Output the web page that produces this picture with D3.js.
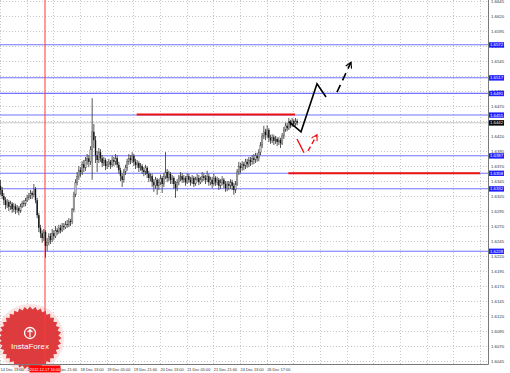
<!DOCTYPE html>
<html><head><meta charset="utf-8">
<script src="https://cdn.jsdelivr.net/npm/d3@7"></script>
<style>html,body{margin:0;padding:0;background:#fff;overflow:hidden}svg{display:block}</style>
</head><body>
<svg id="c" width="510" height="373"></svg>
<script>
const closes=[1.6330,1.6320,1.6313,1.6305,1.6310,1.6302,1.6307,1.6298,1.6303,1.6297,
1.6300,1.6295,1.6303,1.6308,1.6307,1.6313,1.6317,1.6320,1.6325,1.6322,
1.6332,1.6313,1.6288,1.6267,1.6258,1.6250,1.6260,1.6237,1.6243,1.6253,
1.6247,1.6258,1.6253,1.6263,1.6260,1.6267,1.6263,1.6270,1.6268,1.6273,
1.6272,1.6278,1.6277,1.6297,1.6322,1.6343,1.6353,1.6363,1.6360,1.6373,
1.6367,1.6380,1.6383,1.6377,1.6397,1.6427,1.6413,1.6388,1.6380,1.6393,
1.6383,1.6375,1.6380,1.6370,1.6373,1.6377,1.6372,1.6380,1.6377,1.6383,
1.6372,1.6363,1.6353,1.6347,1.6360,1.6367,1.6377,1.6383,1.6380,1.6387,
1.6377,1.6372,1.6375,1.6367,1.6370,1.6363,1.6360,1.6367,1.6357,1.6350,
1.6353,1.6343,1.6338,1.6347,1.6337,1.6343,1.6350,1.6340,1.6353,1.6360,
1.6350,1.6357,1.6347,1.6350,1.6340,1.6333,1.6343,1.6350,1.6353,1.6347,
1.6350,1.6343,1.6353,1.6347,1.6343,1.6350,1.6340,1.6347,1.6350,1.6343,
1.6347,1.6353,1.6350,1.6347,1.6353,1.6343,1.6347,1.6340,1.6350,1.6343,
1.6347,1.6337,1.6343,1.6347,1.6340,1.6333,1.6340,1.6337,1.6343,1.6337,
1.6330,1.6340,1.6360,1.6370,1.6367,1.6373,1.6370,1.6377,1.6373,1.6380,
1.6377,1.6383,1.6380,1.6387,1.6383,1.6393,1.6405,1.6420,1.6427,1.6422,
1.6430,1.6417,1.6413,1.6418,1.6412,1.6415,1.6410,1.6413,1.6408,1.6420,
1.6430,1.6437,1.6433,1.6443,1.6438,1.6445,1.6440,1.6445,1.6442];
const opens=[1.6337,1.6330,1.6320,1.6313,1.6305,1.6310,1.6302,1.6307,1.6298,1.6303,
1.6297,1.6300,1.6295,1.6303,1.6308,1.6307,1.6313,1.6317,1.6320,1.6325,
1.6322,1.6332,1.6313,1.6288,1.6267,1.6258,1.6250,1.6260,1.6237,1.6243,
1.6253,1.6247,1.6258,1.6253,1.6263,1.6260,1.6267,1.6263,1.6270,1.6268,
1.6273,1.6272,1.6278,1.6277,1.6297,1.6322,1.6343,1.6353,1.6363,1.6360,
1.6373,1.6367,1.6380,1.6383,1.6377,1.6397,1.6427,1.6413,1.6388,1.6380,
1.6393,1.6383,1.6375,1.6380,1.6370,1.6373,1.6377,1.6372,1.6380,1.6377,
1.6383,1.6372,1.6363,1.6353,1.6347,1.6360,1.6367,1.6377,1.6383,1.6380,
1.6387,1.6377,1.6372,1.6375,1.6367,1.6370,1.6363,1.6360,1.6367,1.6357,
1.6350,1.6353,1.6343,1.6338,1.6347,1.6337,1.6343,1.6350,1.6340,1.6353,
1.6360,1.6350,1.6357,1.6347,1.6350,1.6340,1.6333,1.6343,1.6350,1.6353,
1.6347,1.6350,1.6343,1.6353,1.6347,1.6343,1.6350,1.6340,1.6347,1.6350,
1.6343,1.6347,1.6353,1.6350,1.6347,1.6353,1.6343,1.6347,1.6340,1.6350,
1.6343,1.6347,1.6337,1.6343,1.6347,1.6340,1.6333,1.6340,1.6337,1.6343,
1.6337,1.6330,1.6340,1.6360,1.6370,1.6367,1.6373,1.6370,1.6377,1.6373,
1.6380,1.6377,1.6383,1.6380,1.6387,1.6383,1.6393,1.6405,1.6420,1.6427,
1.6422,1.6430,1.6417,1.6413,1.6418,1.6412,1.6415,1.6410,1.6413,1.6408,
1.6420,1.6430,1.6437,1.6433,1.6443,1.6438,1.6445,1.6440,1.6445];
const highs=[1.6347,1.6335,1.6325,1.6318,1.6315,1.6313,1.6312,1.6310,1.6308,1.6307,
1.6305,1.6303,1.6307,1.6312,1.6313,1.6317,1.6322,1.6325,1.6330,1.6328,
1.6340,1.6335,1.6317,1.6292,1.6272,1.6263,1.6265,1.6263,1.6250,1.6258,
1.6258,1.6265,1.6263,1.6270,1.6267,1.6272,1.6272,1.6275,1.6275,1.6278,
1.6280,1.6283,1.6282,1.6300,1.6327,1.6348,1.6360,1.6370,1.6368,1.6378,
1.6380,1.6385,1.6390,1.6388,1.6403,1.6483,1.6440,1.6420,1.6395,1.6400,
1.6398,1.6388,1.6385,1.6383,1.6378,1.6382,1.6380,1.6387,1.6385,1.6390,
1.6388,1.6377,1.6367,1.6358,1.6365,1.6372,1.6382,1.6390,1.6388,1.6393,
1.6390,1.6382,1.6380,1.6378,1.6375,1.6373,1.6368,1.6372,1.6370,1.6362,
1.6358,1.6357,1.6348,1.6352,1.6350,1.6348,1.6355,1.6353,1.6358,1.6393,
1.6365,1.6362,1.6360,1.6355,1.6353,1.6345,1.6348,1.6355,1.6360,1.6358,
1.6355,1.6353,1.6358,1.6357,1.6352,1.6355,1.6353,1.6352,1.6357,1.6355,
1.6352,1.6360,1.6358,1.6355,1.6362,1.6357,1.6352,1.6352,1.6357,1.6353,
1.6352,1.6350,1.6348,1.6353,1.6350,1.6345,1.6345,1.6345,1.6348,1.6347,
1.6342,1.6345,1.6365,1.6377,1.6375,1.6378,1.6377,1.6382,1.6382,1.6385,
1.6385,1.6388,1.6390,1.6392,1.6392,1.6398,1.6410,1.6425,1.6437,1.6432,
1.6438,1.6433,1.6422,1.6423,1.6422,1.6420,1.6418,1.6418,1.6417,1.6425,
1.6435,1.6442,1.6442,1.6450,1.6447,1.6450,1.6448,1.6450,1.6448];
const lows=[1.6322,1.6315,1.6305,1.6298,1.6300,1.6295,1.6297,1.6292,1.6293,1.6290,
1.6292,1.6288,1.6292,1.6300,1.6302,1.6303,1.6310,1.6313,1.6315,1.6315,
1.6318,1.6308,1.6283,1.6260,1.6250,1.6242,1.6245,1.6217,1.6228,1.6238,
1.6240,1.6243,1.6247,1.6250,1.6255,1.6257,1.6258,1.6260,1.6263,1.6265,
1.6267,1.6268,1.6270,1.6273,1.6293,1.6318,1.6338,1.6347,1.6352,1.6355,
1.6360,1.6362,1.6372,1.6368,1.6372,1.6347,1.6400,1.6375,1.6360,1.6375,
1.6377,1.6368,1.6370,1.6363,1.6365,1.6368,1.6365,1.6368,1.6370,1.6372,
1.6367,1.6357,1.6345,1.6335,1.6342,1.6355,1.6362,1.6372,1.6373,1.6375,
1.6370,1.6365,1.6367,1.6360,1.6362,1.6357,1.6353,1.6355,1.6350,1.6343,
1.6345,1.6335,1.6327,1.6332,1.6322,1.6330,1.6338,1.6325,1.6335,1.6348,
1.6343,1.6345,1.6340,1.6340,1.6332,1.6317,1.6328,1.6338,1.6345,1.6342,
1.6342,1.6337,1.6340,1.6342,1.6337,1.6340,1.6335,1.6337,1.6343,1.6338,
1.6340,1.6343,1.6345,1.6340,1.6343,1.6337,1.6338,1.6333,1.6337,1.6337,
1.6338,1.6330,1.6332,1.6338,1.6333,1.6327,1.6328,1.6330,1.6332,1.6330,
1.6322,1.6325,1.6337,1.6355,1.6358,1.6362,1.6363,1.6365,1.6367,1.6368,
1.6370,1.6372,1.6373,1.6375,1.6377,1.6378,1.6388,1.6400,1.6415,1.6413,
1.6417,1.6410,1.6407,1.6408,1.6405,1.6407,1.6403,1.6405,1.6400,1.6405,
1.6415,1.6427,1.6428,1.6430,1.6433,1.6435,1.6435,1.6437,1.6438];
const timeLabels=["14 Dec 13:00","17 Dec 05:00","17 Dec 21:00","18 Dec 13:00","19 Dec 05:00","19 Dec 21:00","20 Dec 13:00","21 Dec 05:00","21 Dec 21:00","24 Dec 13:00","26 Dec 17:00"];
const labelStep=16;
const priceTicks=d3.range(0,25).map(k=>+(1.6045+k*0.0025).toFixed(4));
const blueLevels=[1.6572,1.6517,1.6491,1.6455,1.6387,1.6358,1.6332,1.6228];
const currentPrice=1.6442;
const redLevels=[{p:1.6456,from:82,to:177},{p:1.6358,from:173,to:288}];
const markerBar=27, markerLabel="2012.12.17 16:00";
const blackPath=[[173.4,1.6444],[180.6,1.6427],[190.2,1.6507],[195.6,1.6485]];
const blackDash=[[202.2,1.6493],[210.6,1.6543]];
const redPath=[[178.2,1.6415],[182.4,1.6392]];
const redDash=[[184.8,1.6395],[190.2,1.6422]];

const svg=d3.select("#c");
const plotR=488, plotB=364;
const x=d3.scaleLinear().domain([0,288]).range([0,480]);
const y=d3.scaleLinear().domain([1.6045,1.6645]).range([361,1]);
const F="Arial, 'Liberation Sans', sans-serif";
const FS=4.3, FT=3.9;

// grid
const g=svg.append("g");
g.selectAll(".hg").data(priceTicks).join("line")
 .attr("x1",0).attr("x2",plotR).attr("y1",d=>Math.round(y(d))+0.5).attr("y2",d=>Math.round(y(d))+0.5)
 .attr("stroke","#c8c8c8").attr("stroke-dasharray","1,2");
const vt=d3.range(0,289,labelStep);
g.selectAll(".vg").data(vt).join("line")
 .attr("x1",d=>Math.round(x(d))+0.5).attr("x2",d=>Math.round(x(d))+0.5).attr("y1",0).attr("y2",plotB)
 .attr("stroke","#c8c8c8").attr("stroke-dasharray","1,2");

// logo
const logo=svg.append("g").attr("transform","translate(30,338)");
logo.append("circle").attr("r",34).attr("fill","#f6d0d0").attr("opacity",0.6);
const pts=d3.range(0,72).map(k=>{const a=k*Math.PI*2/72;const r=k%2?28.5:31.5;return [r*Math.cos(a),r*Math.sin(a)];});
logo.append("polygon").attr("points",pts.map(p=>p.join(",")).join(" ")).attr("fill","#de3b3e");
logo.append("circle").attr("cy",-5).attr("r",5.5).attr("fill","none").attr("stroke","#fff").attr("stroke-width",1.3);
logo.append("path").attr("d","M0,-9 L0,-1 M-2.5,-6 L0,-8 L2.5,-6").attr("stroke","#fff").attr("stroke-width",1.2).attr("fill","none");
logo.append("text").attr("y",11).attr("text-anchor","middle").attr("fill","#fff").attr("font-family",F).attr("font-size",8).text("InstaForex");

// levels
svg.selectAll(".bl").data(blueLevels).join("line")
 .attr("x1",0).attr("x2",plotR).attr("y1",d=>y(d)).attr("y2",d=>y(d))
 .attr("stroke","#5a5aff").attr("stroke-width",1.1).attr("stroke-opacity",0.85);
svg.append("line").attr("x1",0).attr("x2",plotR).attr("y1",y(currentPrice)).attr("y2",y(currentPrice))
 .attr("stroke","#bdbdbd").attr("stroke-width",1.1).attr("stroke-opacity",0.8);

// marker vertical
svg.append("line").attr("x1",x(markerBar)).attr("x2",x(markerBar)).attr("y1",0).attr("y2",plotB)
 .attr("stroke","#ff3b3b").attr("stroke-width",1.2).attr("stroke-opacity",0.85);

// candles
const data=closes.map((c,i)=>({i,o:opens[i],h:highs[i],l:lows[i],c}));
const cg=svg.append("g");
cg.selectAll(".w").data(data).join("line")
 .attr("x1",d=>x(d.i)+0.5).attr("x2",d=>x(d.i)+0.5).attr("y1",d=>y(d.h)).attr("y2",d=>y(d.l))
 .attr("stroke","#444").attr("stroke-width",0.9);
cg.selectAll(".b").data(data).join("rect")
 .attr("x",d=>x(d.i)-0.2).attr("width",1.4)
 .attr("y",d=>y(Math.max(d.o,d.c))).attr("height",d=>Math.max(0.8,Math.abs(y(d.o)-y(d.c))))
 .attr("fill",d=>d.c>=d.o?"#bdbdbd":"#111").attr("stroke",d=>d.c>=d.o?"#555":"none").attr("stroke-width",0.4);

// red levels
svg.selectAll(".rl").data(redLevels).join("line")
 .attr("x1",d=>x(d.from)).attr("x2",d=>x(d.to)).attr("y1",d=>y(d.p)).attr("y2",d=>y(d.p))
 .attr("stroke","#ee1111").attr("stroke-width",2);

// forecast arrows
const defs=svg.append("defs");
function mk(id,col){defs.append("marker").attr("id",id).attr("viewBox","-8 -5 10 10").attr("refX",0).attr("refY",0)
 .attr("markerWidth",8).attr("markerHeight",8).attr("markerUnits","userSpaceOnUse").attr("orient","auto")
 .append("path").attr("d","M-7,-4 L0,0 L-7,4").attr("fill","none").attr("stroke",col).attr("stroke-width",1.4);}
mk("ab","#000");mk("ar","#ee1111");
const line=d3.line().x(d=>x(d[0])).y(d=>y(d[1]));
svg.append("path").attr("d",line(blackPath)).attr("fill","none").attr("stroke","#000").attr("stroke-width",1.6);
svg.append("path").attr("d",line(blackDash)).attr("fill","none").attr("stroke","#000").attr("stroke-width",1.6).attr("stroke-dasharray","8,5").attr("marker-end","url(#ab)");
svg.append("path").attr("d",line(redPath)).attr("fill","none").attr("stroke","#ee1111").attr("stroke-width",1.4);
svg.append("path").attr("d",line(redDash)).attr("fill","none").attr("stroke","#ee1111").attr("stroke-width",1.4).attr("stroke-dasharray","5,3").attr("marker-end","url(#ar)");

// axes frame
svg.append("rect").attr("x",plotR).attr("y",0).attr("width",510-plotR).attr("height",373).attr("fill","#fff");
svg.append("line").attr("x1",plotR+0.5).attr("x2",plotR+0.5).attr("y1",0).attr("y2",plotB+0.5).attr("stroke","#7a7a7a");
svg.append("line").attr("x1",0).attr("x2",plotR+0.5).attr("y1",plotB+0.5).attr("y2",plotB+0.5).attr("stroke","#7a7a7a");

// price labels
const yl=svg.append("g").attr("font-family",F).attr("font-size",FS);
yl.selectAll("text").data(priceTicks).join("text").attr("x",491).attr("y",d=>y(d)+1.6).attr("fill","#333").text(d=>d.toFixed(4));
const bg=svg.append("g");
bg.selectAll("rect").data(blueLevels).join("rect").attr("x",plotR+1).attr("y",d=>y(d)-2.6).attr("width",15).attr("height",5.4).attr("fill","#1f1fff");
bg.selectAll("text").data(blueLevels).join("text").attr("x",plotR+2).attr("y",d=>y(d)+1.6).attr("fill","#fff").attr("font-family",F).attr("font-size",FS).text(d=>d.toFixed(4));
svg.append("rect").attr("x",plotR+1).attr("y",y(currentPrice)-2.6).attr("width",15).attr("height",5.4).attr("fill","#000");
svg.append("text").attr("x",plotR+2).attr("y",y(currentPrice)+1.6).attr("fill","#fff").attr("font-family",F).attr("font-size",FS).text(currentPrice.toFixed(4));

// time labels
const tl=svg.append("g").attr("font-family",F).attr("font-size",FT).attr("fill","#333");
tl.selectAll("text").data(timeLabels).join("text").attr("x",(d,k)=>x(k*labelStep)+0.5).attr("y",370.5).text(d=>d);
const mx=x(markerBar);
svg.append("rect").attr("x",mx-15.5).attr("y",365.5).attr("width",31).attr("height",7).attr("fill","#ff0000");
svg.append("text").attr("x",mx).attr("y",370.5).attr("text-anchor","middle").attr("fill","#fff").attr("font-family",F).attr("font-size",FT).text(markerLabel);
</script>
</body></html>
